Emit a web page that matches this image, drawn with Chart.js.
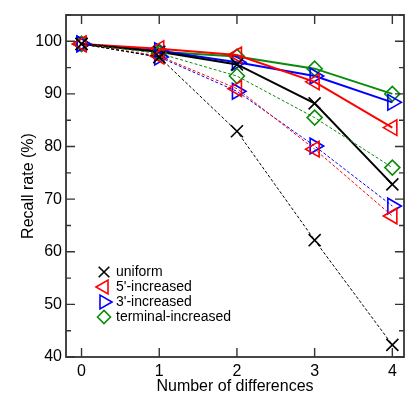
<!DOCTYPE html>
<html>
<head>
<meta charset="utf-8">
<script src="https://cdn.jsdelivr.net/npm/chart.js@4/dist/chart.umd.min.js"></script>
<style>
  html, body { margin: 0; padding: 0; background: #fff; overflow: hidden; }
  #wrap { width: 405px; height: 394px; }
</style>
</head>
<body>
<div id="wrap"><canvas id="chart"></canvas></div>
<script>
// Recall rate vs number of differences, solid and dashed runs per strategy
const differences = [0, 1, 2, 3, 4];
const xTickValues = [0, 1, 2, 3, 4];
const yTickValues = [40, 50, 60, 70, 80, 90, 100];

const uniformSolid = [99.5, 98.0, 95.6, 88.2, 72.8];
const uniformDashed = [99.5, 97.0, 82.9, 62.2, 42.3];
const fivePrimeSolid = [99.5, 98.6, 97.4, 92.3, 83.6];
const fivePrimeDashed = [99.5, 97.2, 91.0, 79.5, 66.8];
const threePrimeSolid = [99.5, 98.2, 96.0, 93.4, 88.4];
const threePrimeDashed = [99.5, 97.0, 90.5, 80.1, 68.7];
const terminalSolid = [99.5, 98.0, 97.1, 94.8, 90.0];
const terminalDashed = [99.5, 97.7, 93.4, 85.5, 76.0];

const legendLabels = ['uniform', "5'-increased", "3'-increased", 'terminal-increased'];

const BLACK = '#000000';
const RED = '#ff0000';
const BLUE = '#0000ff';
const GREEN = '#0a8a0a';

const markers = [
    { style: 'crossRot', rotation: 0, radius: 8.5, color: BLACK },
    { style: 'triangle', rotation: 270, radius: 9, color: RED },
    { style: 'triangle', rotation: 90, radius: 9, color: BLUE },
    { style: 'rectRot', rotation: 0, radius: 7.5, color: GREEN }
];

function toPoints(values) {
    return values.map((v, i) => ({ x: differences[i], y: v }));
}

function makeDataset(values, m, dashed) {
    return {
        data: toPoints(values),
        borderColor: m.color,
        backgroundColor: 'rgba(0,0,0,0)',
        borderWidth: dashed ? 1 : 2,
        borderDash: dashed ? [3, 2] : [],
        pointStyle: m.style,
        pointRotation: m.rotation,
        pointRadius: m.radius,
        pointBorderWidth: 1.6,
        pointBorderColor: m.color,
        pointBackgroundColor: 'rgba(0,0,0,0)',
        tension: 0,
        fill: false
    };
}

// frame box with inward ticks on all four sides
const framePlugin = {
    id: 'frame',
    afterDraw(chart) {
        const ctx = chart.ctx;
        const a = chart.chartArea;
        const xs = chart.scales.x;
        const ys = chart.scales.y;
        ctx.save();
        ctx.strokeStyle = '#333';
        ctx.lineWidth = 1.8;
        ctx.strokeRect(a.left, a.top, a.right - a.left, a.bottom - a.top);
        ctx.lineWidth = 1.4;
        ctx.beginPath();
        xTickValues.forEach(v => {
            const px = xs.getPixelForValue(v);
            ctx.moveTo(px, a.bottom); ctx.lineTo(px, a.bottom - 9);
            ctx.moveTo(px, a.top); ctx.lineTo(px, a.top + 9);
        });
        for (let v = 40; v <= 105; v += 5) {
            const py = ys.getPixelForValue(v);
            const len = (v % 10 === 0) ? 9 : 5;
            ctx.moveTo(a.left, py); ctx.lineTo(a.left + len, py);
            ctx.moveTo(a.right, py); ctx.lineTo(a.right - len, py);
        }
        ctx.stroke();
        ctx.restore();
    }
};

// legend inside the plot, markers only
const legendPlugin = {
    id: 'innerLegend',
    afterDraw(chart) {
        const ctx = chart.ctx;
        ctx.save();
        ctx.font = '14px "Liberation Sans", Arial, sans-serif';
        ctx.textBaseline = 'middle';
        legendLabels.forEach((label, i) => {
            const m = markers[i];
            const y = 272 + i * 15;
            ctx.strokeStyle = m.color;
            ctx.fillStyle = 'rgba(0,0,0,0)';
            ctx.lineWidth = 1.6;
            Chart.helpers.drawPoint(ctx, {
                pointStyle: m.style,
                rotation: m.rotation,
                radius: m.radius - 1,
                borderWidth: 1.6
            }, 104, y);
            ctx.fillStyle = '#000';
            ctx.fillText(label, 116, y);
        });
        ctx.restore();
    }
};

const ctx = document.getElementById('chart');
new Chart(ctx, {
    type: 'line',
    data: {
        datasets: [
            makeDataset(uniformDashed, markers[0], true),
            makeDataset(fivePrimeDashed, markers[1], true),
            makeDataset(threePrimeDashed, markers[2], true),
            makeDataset(terminalDashed, markers[3], true),
            makeDataset(uniformSolid, markers[0], false),
            makeDataset(fivePrimeSolid, markers[1], false),
            makeDataset(threePrimeSolid, markers[2], false),
            makeDataset(terminalSolid, markers[3], false)
        ]
    },
    options: {
        responsive: true,
        maintainAspectRatio: false,
        animation: false,
        layout: { autoPadding: false, padding: { left: 17, top: 15, right: 1, bottom: 0 } },
        plugins: {
            legend: { display: false },
            tooltip: { enabled: false }
        },
        scales: {
            x: {
                type: 'linear',
                min: -0.2,
                max: 4.15,
                afterBuildTicks: (scale) => { scale.ticks = xTickValues.map(v => ({ value: v })); },
                afterFit: (scale) => { scale.height = 37; },
                grid: { display: false, drawTicks: false },
                border: { display: false },
                ticks: {
                    padding: 5,
                    color: '#000',
                    font: { family: '"Liberation Sans", Arial, sans-serif', size: 16 }
                },
                title: {
                    display: true,
                    text: 'Number of differences',
                    color: '#000',
                    padding: { top: 0, bottom: -2 },
                    font: { family: '"Liberation Sans", Arial, sans-serif', size: 16 }
                }
            },
            y: {
                type: 'linear',
                min: 40,
                max: 105,
                afterBuildTicks: (scale) => { scale.ticks = yTickValues.map(v => ({ value: v })); },
                afterFit: (scale) => { scale.width = 49; },
                grid: { display: false, drawTicks: false },
                border: { display: false },
                ticks: {
                    padding: 4,
                    color: '#000',
                    font: { family: '"Liberation Sans", Arial, sans-serif', size: 16 }
                },
                title: {
                    display: true,
                    text: 'Recall rate (%)',
                    color: '#000',
                    padding: { top: 2, bottom: 0 },
                    font: { family: '"Liberation Sans", Arial, sans-serif', size: 16 }
                }
            }
        }
    },
    plugins: [framePlugin, legendPlugin]
});
</script>
</body>
</html>
